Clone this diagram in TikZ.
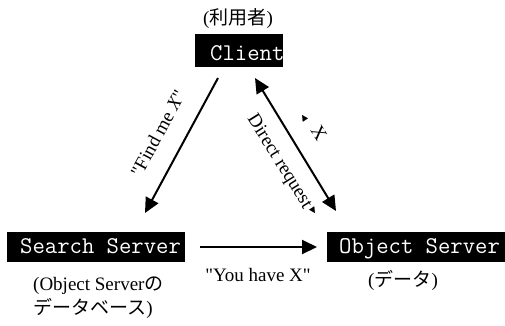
\documentclass[tikz,border=0pt]{standalone}
\usepackage{fontspec}
\setmainfont{Liberation Serif}[Ligatures=TeXOff]
\newfontfamily\jpf{Noto Sans CJK JP}
\usetikzlibrary{arrows.meta}
\begin{document}
\begin{tikzpicture}[x=1pt,y=-1pt,
  box/.style={fill=black, draw=none, inner sep=0pt},
  boxtext/.style={text=white, inner sep=0pt, font=\ttfamily\fontsize{24}{24}\selectfont},
  lbl/.style={inner sep=0pt, font=\fontsize{19}{24}\selectfont},
  conn/.style={line width=2pt, -{Triangle[length=15pt,width=14pt]}},
  conn2/.style={line width=2pt, {Triangle[length=15pt,width=14pt]}-{Triangle[length=15pt,width=14pt]}},
  tiny/.style={line width=0.2pt, -{Triangle[length=6pt,width=6pt]}}]
\useasboundingbox (0,0) rectangle (505,325);
% boxes
\node[box, minimum width=88, minimum height=33] (client) at (239,50.5) {};
\node[box, minimum width=178, minimum height=30] (search) at (96,247) {};
\node[box, minimum width=190, minimum height=30] (object) at (422,247) {};
\begin{scope}
  \clip (client.south west) rectangle (client.north east);
  \node[boxtext, anchor=base west] (clienttext) at (210,60) {Client};
\end{scope}
\begin{scope}
  \clip (search.south west) rectangle (search.north east);
  \node[boxtext, anchor=base west] (searchtext) at (20,253) {Search Server};
\end{scope}
\begin{scope}
  \clip (object.south west) rectangle (object.north east);
  \node[boxtext, anchor=base west] (objecttext) at (339,253) {Object Server};
\end{scope}
% labels
\node[lbl] (user) at (238,19) {({\jpf 利用者})};
\node[lbl, anchor=west, align=left] (searchnote) at (33,298) {(Object Server{\jpf の}\\{\jpf データベース})};
\node[lbl] (objnote) at (403,280) {({\jpf データ})};
% connector endpoints
\coordinate (f1) at (218,78);
\coordinate (f2) at (145,213);
\coordinate (d1) at (255,78);
\coordinate (d2) at (336,211);
\coordinate (y1) at (200,247);
\coordinate (y2) at (317,247);
\draw[conn] (f1) -- (f2);
\draw[conn2] (d1) -- (d2);
\draw[conn] (y1) -- (y2);
% small arrow tips
\coordinate (s1) at (304,118);
\coordinate (s2) at (302,115);
\coordinate (s3) at (313,210);
\coordinate (s4) at (315,213);
\draw[tiny] (s1) -- (s2);
\draw[tiny] (s3) -- (s4);
% connector labels
\node[lbl, rotate=61.6] (findme) at (158,133) {"Find me \textit{X}"};
\node[lbl, rotate=-58] (direct) at (279,162) {Direct request};
\node[lbl, rotate=-58] (xlabel) at (319,133) {X};
\node[lbl] (youhave) at (258,275) {"You have X"};
\end{tikzpicture}
\end{document}
